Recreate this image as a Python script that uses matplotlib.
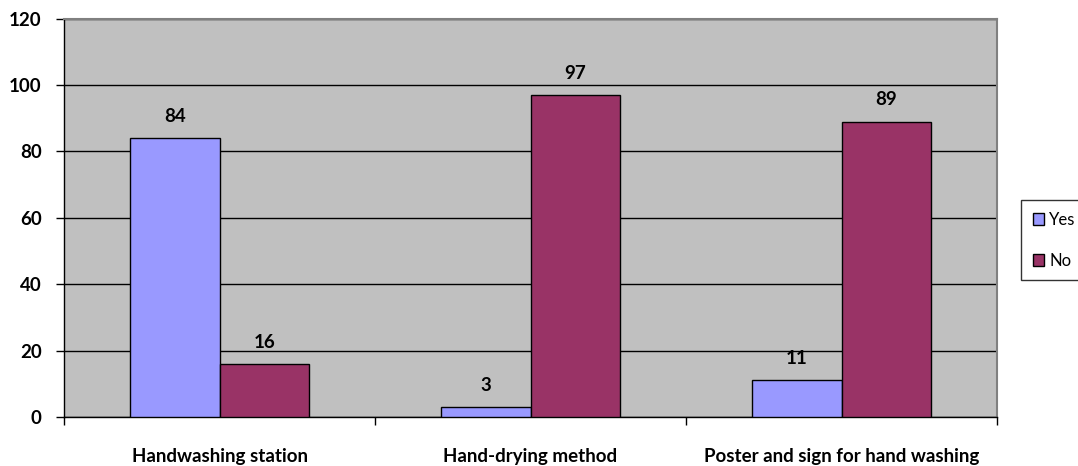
import matplotlib
matplotlib.use("Agg")
import matplotlib.pyplot as plt
import numpy as np
from matplotlib.patches import Patch

categories = ["Handwashing station", "Hand-drying method", "Poster and sign for hand washing"]
yes_values = [84, 3, 11]
no_values = [16, 97, 89]
series_names = ["Yes", "No"]
y_ticks = [0, 20, 40, 60, 80, 100, 120]

plt.rcParams['font.family'] = ['Lato', 'DejaVu Sans']

fig = plt.figure(figsize=(10.78, 4.66), dpi=100)
ax = fig.add_axes([64/1078, 49/466, (997-64)/1078, (417-18.6)/466])
ax.set_facecolor("#C0C0C0")

x = np.arange(len(categories))
w = 0.288
b1 = ax.bar(x - w/2, yes_values, w, color="#9999FF", edgecolor="black", linewidth=1, zorder=3)
b2 = ax.bar(x + w/2, no_values, w, color="#993366", edgecolor="black", linewidth=1, zorder=3)

for bars, vals in ((b1, yes_values), (b2, no_values)):
    for r, v in zip(bars, vals):
        ax.text(r.get_x() + r.get_width()/2, v + 4, str(v), ha="center", va="bottom",
                fontsize=13.5, fontweight="bold")

ax.set_xlim(-0.5, 2.5)
ax.set_ylim(0, 120)
ax.set_yticks(y_ticks)
ax.set_yticklabels([str(t) for t in y_ticks], fontsize=13.5, fontweight="bold")
ax.yaxis.grid(True, color="black", linewidth=1, zorder=1)
ax.set_axisbelow(True)

ax.set_xticks([-0.5, 0.5, 1.5, 2.5])
ax.set_xticklabels([])
ax.set_xticks(x, minor=True)
ax.set_xticklabels(categories, minor=True, fontsize=13.5, fontweight="bold")
ax.tick_params(axis="x", which="minor", length=0, pad=22)
ax.tick_params(axis="x", which="major", length=6, direction="out", width=1)
ax.tick_params(axis="y", length=6, direction="out", width=1, pad=10)

for s in ("top", "right"):
    ax.spines[s].set_color("#808080")
    ax.spines[s].set_linewidth(1.5)
for s in ("left", "bottom"):
    ax.spines[s].set_color("black")
    ax.spines[s].set_linewidth(1)

handles = [Patch(facecolor="#9999FF", edgecolor="black"),
           Patch(facecolor="#993366", edgecolor="black")]
leg = fig.legend(handles, series_names, loc="upper left",
                 bbox_to_anchor=(1021/1078, 1 - 200/466), frameon=True,
                 fancybox=False, edgecolor="black", fontsize=12,
                 handlelength=0.7, handleheight=0.7, handletextpad=0.3,
                 labelspacing=1.5, borderpad=0.7, borderaxespad=0)
leg.get_frame().set_linewidth(1)

fig.savefig("out.png", dpi=100)
